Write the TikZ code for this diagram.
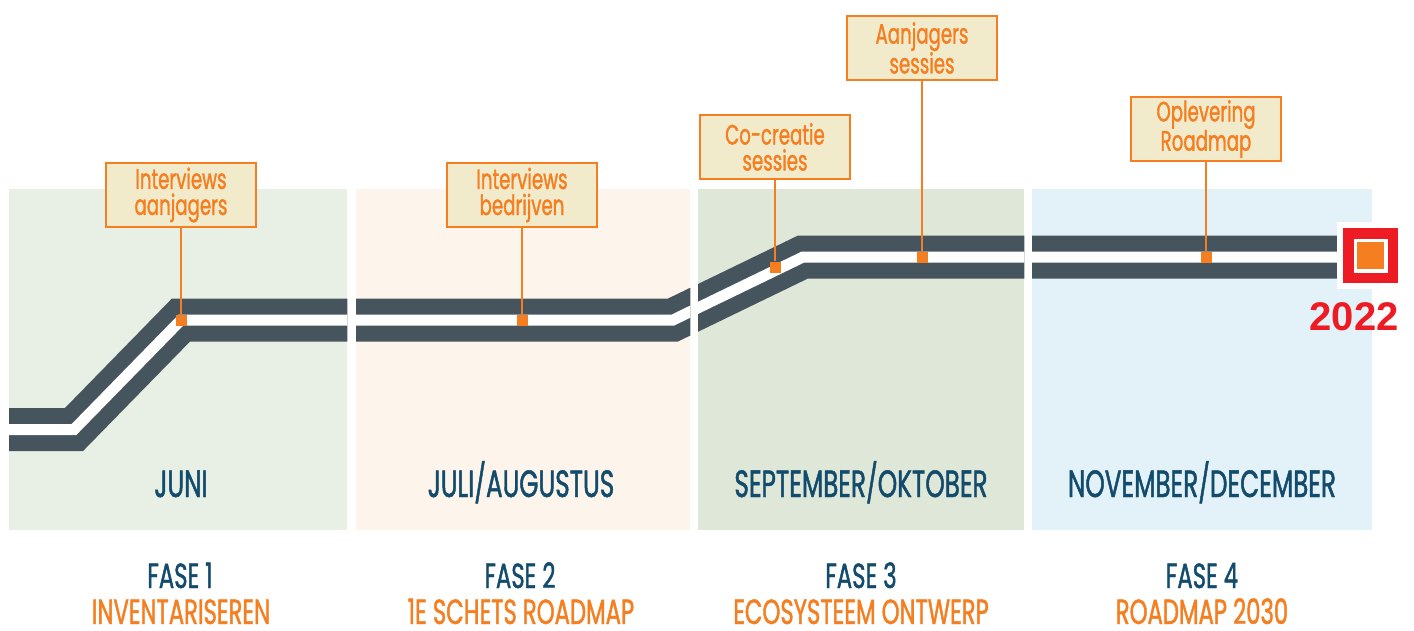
\documentclass[tikz,border=0pt]{standalone}
\usepackage{fontspec}
\setmainfont{Poppins}[FakeStretch=0.65,FakeBold=1.2]
\newfontfamily\yearfont{Liberation Sans}
\usetikzlibrary{positioning}
\definecolor{rmPaneA}{HTML}{E8EFE4}
\definecolor{rmPaneB}{HTML}{FDF5EC}
\definecolor{rmPaneC}{HTML}{DFE8D8}
\definecolor{rmPaneD}{HTML}{E3F2F8}
\definecolor{rmRoad}{HTML}{46545E}
\definecolor{rmOrange}{HTML}{F47E20}
\definecolor{rmCream}{HTML}{F1EACB}
\definecolor{rmBlue}{HTML}{134B6C}
\definecolor{rmRed}{HTML}{ED1C24}
\tikzset{
  rmpanel/.style={anchor=north west,inner sep=0pt,minimum height=341},
  rmroad/.style={draw=rmRoad,line width=16,double=white,double distance=11,line join=miter},
  rmcall/.style={draw=rmOrange,line width=2.8,fill=rmCream,text=rmOrange,align=center,
                 minimum width=150,minimum height=64,inner sep=2pt,
                 font=\fontsize{28}{26}\selectfont},
  rmdot/.style={fill=rmOrange,minimum size=11,inner sep=0pt},
  rmlead/.style={draw=rmOrange,line width=2.2},
  rmmonth/.style={anchor=base,text=rmBlue,inner sep=0pt,font=\fontsize{38}{40}\selectfont},
  rmfase/.style={anchor=base,text=rmBlue,inner sep=0pt,font=\fontsize{35}{36}\selectfont},
  rmgoal/.style={anchor=base,text=rmOrange,inner sep=0pt,font=\fontsize{35}{36}\selectfont},
}
\begin{document}
\begin{tikzpicture}[x=1pt,y=-1pt]
  \useasboundingbox (0,0) rectangle (1414,630);

  % the four phases
  \node[rmpanel,fill=rmPaneA,minimum width=338] (P1) at (9,189) {};
  \node[rmpanel,fill=rmPaneB,minimum width=334] (P2) at (356,189) {};
  \node[rmpanel,fill=rmPaneC,minimum width=326] (P3) at (698,189) {};
  \node[rmpanel,fill=rmPaneD,minimum width=340] (P4) at (1032,189) {};

  % the road, cut at the gaps between the phases
  \begin{scope}
    \clip (P1.north west) rectangle (P1.south east) (P2.north west) rectangle (P2.south east)
          (P3.north west) rectangle (P3.south east) (P4.north west) rectangle (P4.south east);
    \draw[rmroad] (9,429.5) -- (74,429.5) -- (181,320) -- (673,320) -- (803,257) -- (1337,257);
  \end{scope}

  \node[rmmonth] (L1) at (181,497) {JUNI};
  \node[rmmonth] (L2) at (521,497) {JULI/AUGUSTUS};
  \node[rmmonth] (L3) at (861,497) {SEPTEMBER/OKTOBER};
  \node[rmmonth] (L4) at (1202,497) {NOVEMBER/DECEMBER};

  \node[rmfase] (F1) at (180,588) {FASE 1};
  \node[rmfase] (F2) at (520,588) {FASE 2};
  \node[rmfase] (F3) at (861,588) {FASE 3};
  \node[rmfase] (F4) at (1202,588) {FASE 4};
  \node[rmgoal] (G1) at (181,624) {INVENTARISEREN};
  \node[rmgoal] (G2) at (521,624) {1E SCHETS ROADMAP};
  \node[rmgoal] (G3) at (861,624) {ECOSYSTEEM ONTWERP};
  \node[rmgoal] (G4) at (1202,624) {ROADMAP 2030};

  % milestones
  \node[rmcall] (C1) at (181,195) {Interviews\\aanjagers};
  \node[rmcall] (C2) at (522,195) {Interviews\\bedrijven};
  \node[rmcall] (C3) at (775,147) {Co-creatie\\sessies};
  \node[rmcall] (C4) at (922,48) {Aanjagers\\sessies};
  \node[rmcall] (C5) at (1206,129) {Oplevering\\Roadmap};
  \node[rmdot] (M1) at (181,320) {};
  \node[rmdot] (M2) at (522,320) {};
  \node[rmdot] (M3) at (775,267) {};
  \node[rmdot] (M4) at (922,257) {};
  \node[rmdot] (M5) at (1206,257) {};
  \foreach \i in {1,...,5}
    \draw[rmlead] (C\i) -- (M\i);

  % end of the road
  \node[fill=rmRed,draw=white,line width=6,minimum size=61,inner sep=0pt] (E) at (1370.5,255.5) {};
  \node[fill=rmOrange,draw=white,line width=3.5,minimum size=30.5,inner sep=0pt] (EI) at (E) {};
  \node[anchor=base,text=rmRed,inner sep=0pt,font=\yearfont\bfseries\fontsize{40}{42}\selectfont] (Y) at (1354,330) {2022};
\end{tikzpicture}
\end{document}
